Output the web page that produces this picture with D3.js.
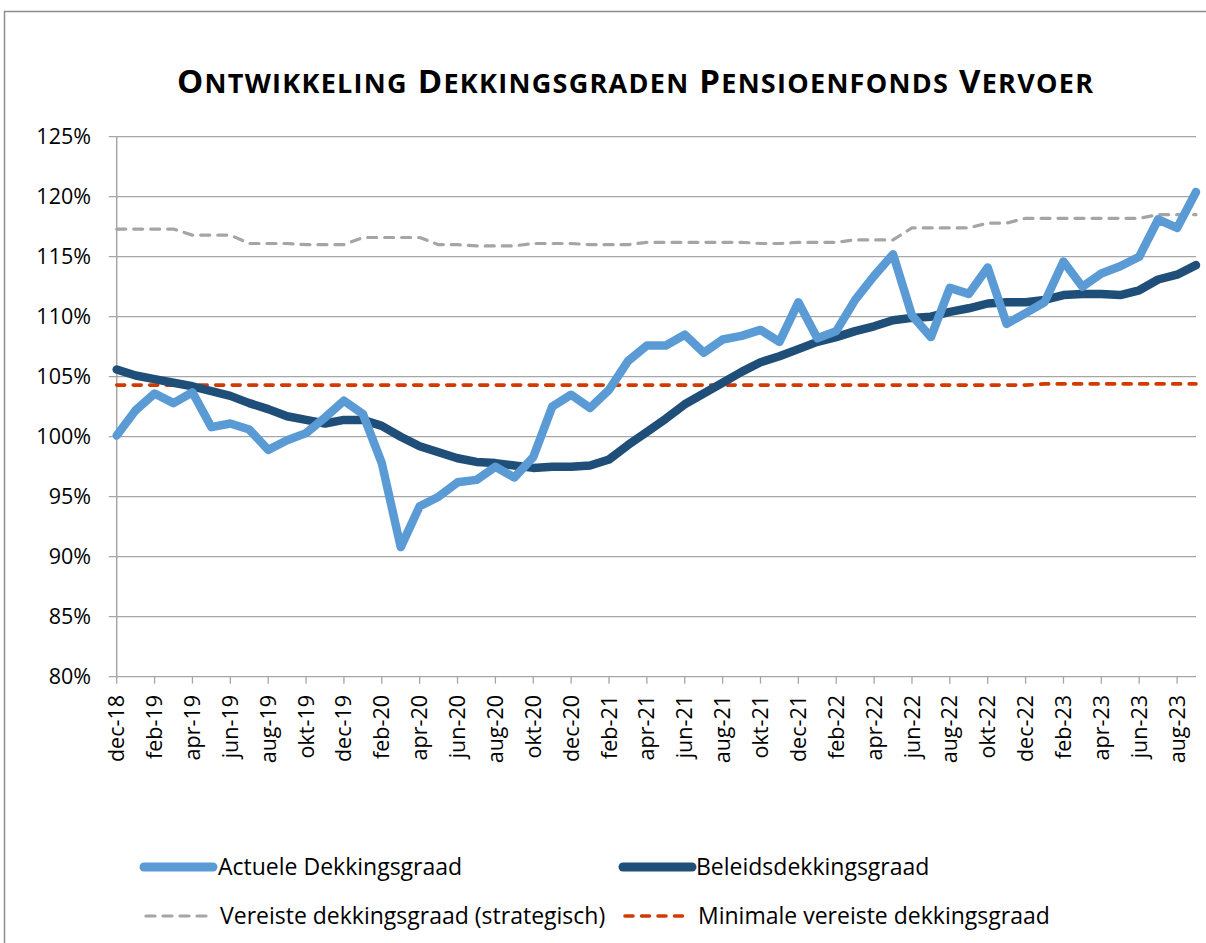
<!DOCTYPE html>
<html>
<head>
<meta charset="utf-8">
<script src="https://cdn.jsdelivr.net/npm/d3@7"></script>
<style>
  body { margin: 0; background: #fff; }
  text { font-family: "Open Sans", "Noto Sans", sans-serif; fill: #000; }
</style>
</head>
<body>
<svg id="chart" width="1206" height="943"></svg>
<script>
// maanden (categorie-as)
const months = ["dec-18","jan-19","feb-19","mrt-19","apr-19","mei-19","jun-19","jul-19","aug-19","sep-19","okt-19","nov-19",
  "dec-19","jan-20","feb-20","mrt-20","apr-20","mei-20","jun-20","jul-20","aug-20","sep-20","okt-20","nov-20",
  "dec-20","jan-21","feb-21","mrt-21","apr-21","mei-21","jun-21","jul-21","aug-21","sep-21","okt-21","nov-21",
  "dec-21","jan-22","feb-22","mrt-22","apr-22","mei-22","jun-22","jul-22","aug-22","sep-22","okt-22","nov-22",
  "dec-22","jan-23","feb-23","mrt-23","apr-23","mei-23","jun-23","jul-23","aug-23","sep-23"];

const actuele = [100.1,102.2,103.6,102.8,103.7,100.8,101.1,100.6,98.9,99.7,100.3,101.6,
  103.0,101.9,97.8,90.8,94.2,95.0,96.2,96.4,97.5,96.6,98.3,102.5,
  103.5,102.4,103.9,106.3,107.6,107.6,108.5,107.0,108.1,108.4,108.9,107.9,
  111.2,108.2,108.8,111.4,113.4,115.2,110.1,108.3,112.4,111.9,114.1,109.4,
  110.3,111.2,114.6,112.5,113.6,114.2,115.0,118.1,117.4,120.4];

const beleids = [105.6,105.1,104.8,104.5,104.2,103.8,103.4,102.8,102.3,101.7,101.4,101.1,
  101.4,101.4,100.9,100.0,99.2,98.7,98.2,97.9,97.8,97.6,97.4,97.5,
  97.5,97.6,98.1,99.3,100.4,101.5,102.7,103.6,104.5,105.4,106.2,106.7,
  107.3,107.9,108.3,108.8,109.2,109.7,109.9,110.0,110.4,110.7,111.1,111.2,
  111.2,111.4,111.8,111.9,111.9,111.8,112.2,113.1,113.5,114.3];

const vereiste = [117.3,117.3,117.3,117.3,116.8,116.8,116.8,116.1,116.1,116.1,116.0,116.0,
  116.0,116.6,116.6,116.6,116.6,116.0,116.0,115.9,115.9,115.9,116.1,116.1,
  116.1,116.0,116.0,116.0,116.2,116.2,116.2,116.2,116.2,116.2,116.1,116.1,
  116.2,116.2,116.2,116.4,116.4,116.4,117.4,117.4,117.4,117.4,117.8,117.8,
  118.2,118.2,118.2,118.2,118.2,118.2,118.2,118.5,118.5,118.5];

const minimaal = [104.3,104.3,104.3,104.3,104.3,104.3,104.3,104.3,104.3,104.3,104.3,104.3,
  104.3,104.3,104.3,104.3,104.3,104.3,104.3,104.3,104.3,104.3,104.3,104.3,
  104.3,104.3,104.3,104.3,104.3,104.3,104.3,104.3,104.3,104.3,104.3,104.3,
  104.3,104.3,104.3,104.3,104.3,104.3,104.3,104.3,104.3,104.3,104.3,104.3,
  104.3,104.4,104.4,104.4,104.4,104.4,104.4,104.4,104.4,104.4];

const yTicks = [80,85,90,95,100,105,110,115,120,125];

const titleWords = ["Ontwikkeling", "Dekkingsgraden", "Pensioenfonds", "Vervoer"];

const series = [
  {name: "Actuele Dekkingsgraad", values: actuele, color: "#5b9bd5", width: 8.5, dash: null},
  {name: "Beleidsdekkingsgraad", values: beleids, color: "#1f4e79", width: 8.5, dash: null},
  {name: "Vereiste dekkingsgraad (strategisch)", values: vereiste, color: "#a5a5a5", width: 3.2, dash: "9,8"},
  {name: "Minimale vereiste dekkingsgraad", values: minimaal, color: "#d33a02", width: 3.6, dash: "8,8.5"}
];

const svg = d3.select("#chart");

// kader
svg.append("rect")
  .attr("x", 4.5).attr("y", 11.5)
  .attr("width", 1260).attr("height", 1000)
  .attr("fill", "none")
  .attr("stroke", "#8c8c8c")
  .attr("stroke-width", 1.5);

const plot = {left: 116.7, right: 1196, top: 136.7, bottom: 676.7};

let x = d3.scalePoint()
  .domain(months)
  .range([plot.left, plot.right]);

let y = d3.scaleLinear()
  .domain([80, 125])
  .range([plot.bottom, plot.top]);

// titel in kleine hoofdletters
const title = svg.append("text")
  .attr("x", 177).attr("y", 93)
  .attr("textLength", 916)
  .attr("lengthAdjust", "spacing")
  .style("font-weight", "bold");
titleWords.forEach(function(w, i){
  title.append("tspan").style("font-size", "33px").text((i > 0 ? " " : "") + w[0]);
  title.append("tspan").style("font-size", "27px").text(w.slice(1).toUpperCase());
});

// gridlijnen
svg.append("g")
  .selectAll("line")
  .data(yTicks)
  .join("line")
    .attr("x1", plot.left - 8).attr("x2", plot.right)
    .attr("y1", d => y(d)).attr("y2", d => y(d))
    .attr("stroke", "#a6a6a6")
    .attr("stroke-width", 1.3);

// y-as
svg.append("line")
  .attr("x1", plot.left).attr("x2", plot.left)
  .attr("y1", plot.top).attr("y2", plot.bottom)
  .attr("stroke", "#a6a6a6").attr("stroke-width", 1.5);

svg.append("g")
  .selectAll("text")
  .data(yTicks)
  .join("text")
    .attr("x", 91)
    .attr("y", d => y(d))
    .attr("dy", "0.35em")
    .attr("text-anchor", "end")
    .style("font-size", "21.5px")
    .text(d => d + "%");

// x-as
const labelled = months.filter((m, i) => i % 2 === 0);

svg.append("g")
  .selectAll("line")
  .data(labelled)
  .join("line")
    .attr("x1", d => x(d)).attr("x2", d => x(d))
    .attr("y1", plot.bottom).attr("y2", plot.bottom + 7)
    .attr("stroke", "#a6a6a6").attr("stroke-width", 1.3);

svg.append("g")
  .selectAll("text")
  .data(labelled)
  .join("text")
    .attr("transform", d => "translate(" + x(d) + "," + 695 + ") rotate(-90)")
    .attr("dy", "0.35em")
    .attr("text-anchor", "end")
    .style("font-size", "21.5px")
    .text(d => d);

// lijnen
let line = d3.line()
  .x((d, i) => x(months[i]))
  .y(d => y(d));

svg.append("g")
  .selectAll("path")
  .data(series.slice().reverse())
  .join("path")
    .attr("d", d => line(d.values))
    .attr("fill", "none")
    .attr("stroke", d => d.color)
    .attr("stroke-width", d => d.width)
    .attr("stroke-dasharray", d => d.dash)
    .attr("stroke-linecap", "round")
    .attr("stroke-linejoin", "round");

// legenda
const legendPos = [
  {x: 140, y: 867}, {x: 619, y: 867},
  {x: 142, y: 916}, {x: 621, y: 916}
];

let legend = svg.append("g")
  .selectAll("g")
  .data(series)
  .join("g")
    .attr("transform", (d, i) => "translate(" + legendPos[i].x + "," + legendPos[i].y + ")");

legend.append("line")
  .attr("x1", 4).attr("x2", d => d.dash ? 70 : 73)
  .attr("stroke", d => d.color)
  .attr("stroke-width", d => d.dash ? d.width : 9)
  .attr("stroke-dasharray", d => d.dash)
  .attr("stroke-linecap", "round");

legend.append("text")
  .attr("x", (d, i) => i % 2 === 0 ? 78 : 77)
  .attr("dy", "0.35em")
  .style("font-size", "23px")
  .text(d => d.name);
</script>
</body>
</html>
